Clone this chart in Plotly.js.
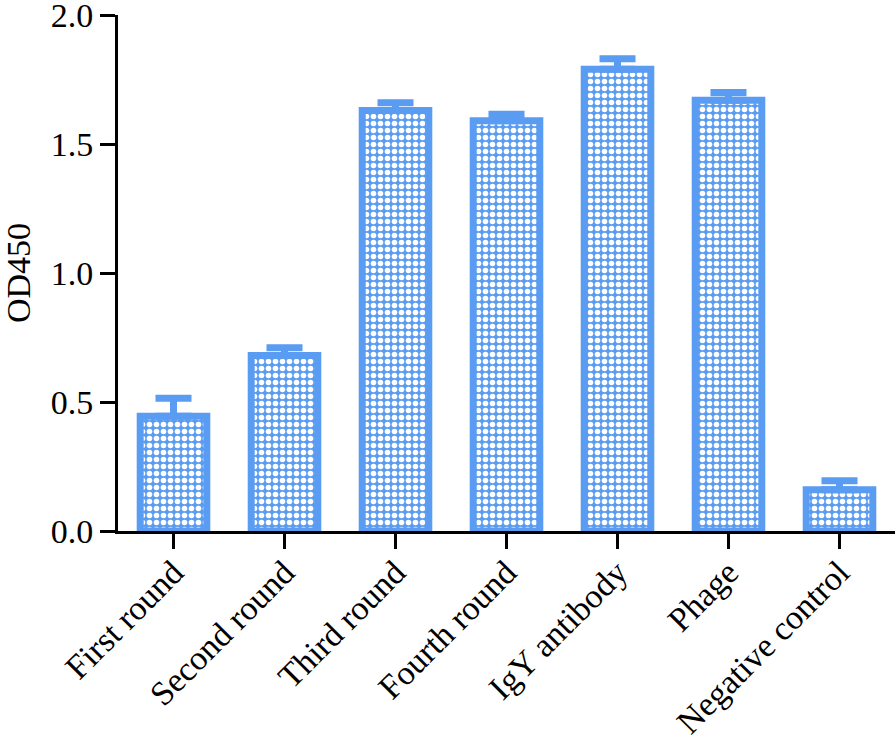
<!DOCTYPE html>
<html>
<head>
<meta charset="utf-8">
<script src="https://cdn.plot.ly/plotly-3.0.1.min.js"></script>
<style>
html,body{margin:0;padding:0;background:#fff;}
#chart{width:896px;height:748px;}
</style>
</head>
<body>
<div id="chart"></div>
<script>
const categories = ["First round", "Second round", "Third round", "Fourth round", "IgY antibody", "Phage", "Negative control"];
const od450 = [0.445, 0.68, 1.63, 1.59, 1.79, 1.67, 0.16];
const errUp = [0.07, 0.03, 0.03, 0.025, 0.04, 0.03, 0.035];
const errDown = [0, 0, 0, 0, 0, 0, 0];
const yTicks = [0, 0.5, 1.0, 1.5, 2.0];

const blue = '#5a9cf2';
const font = "'Liberation Serif', 'Times New Roman', Times, serif";

const trace = {
  type: 'bar',
  x: categories,
  y: od450,
  width: 0.6,
  marker: {
    color: blue,
    line: {color: blue, width: 7},
    pattern: {shape: '.', bgcolor: blue, fgcolor: '#ffffff', size: 7, solidity: 0.5, fillmode: 'replace'}
  },
  error_y: {
    type: 'data',
    symmetric: false,
    array: errUp,
    arrayminus: errDown,
    color: blue,
    thickness: 7,
    width: 18
  },
  hoverinfo: 'none'
};

const layout = {
  width: 896,
  height: 748,
  margin: {l: 118, r: 1, t: 15, b: 217},
  paper_bgcolor: '#ffffff',
  plot_bgcolor: '#ffffff',
  showlegend: false,
  bargap: 0.4,
  font: {family: font, size: 34, color: '#000'},
  xaxis: {
    type: 'category',
    range: [-0.5, 6.5],
    showline: true,
    linecolor: '#000',
    linewidth: 3,
    ticks: 'outside',
    ticklen: 15,
    tickwidth: 3,
    tickcolor: '#000',
    tickangle: -45,
    ticklabelstandoff: -10,
    ticklabeloverflow: 'allow',
    tickfont: {family: font, size: 34, color: '#000'},
    showgrid: false,
    zeroline: false,
    automargin: false
  },
  yaxis: {
    range: [0, 2.0],
    tickvals: yTicks,
    ticktext: yTicks.map(v => v.toFixed(1)),
    ticklabeloverflow: 'allow',
    showline: true,
    linecolor: '#000',
    linewidth: 3,
    ticks: 'outside',
    ticklen: 15,
    tickwidth: 3,
    tickcolor: '#000',
    tickfont: {family: font, size: 34, color: '#000'},
    showgrid: false,
    zeroline: false,
    automargin: false,
    title: {text: 'OD450', font: {family: font, size: 34, color: '#000'}, standoff: 22}
  }
};

Plotly.newPlot('chart', [trace], layout, {displayModeBar: false, staticPlot: true});
</script>
</body>
</html>
